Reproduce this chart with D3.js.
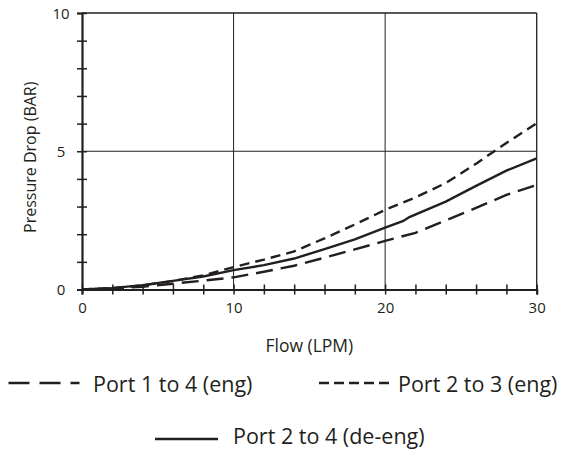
<!DOCTYPE html>
<html>
<head>
<meta charset="utf-8">
<script src="https://cdn.jsdelivr.net/npm/d3@7"></script>
<style>
  html, body { margin: 0; padding: 0; background: #fff; }
  svg { display: block; }
  text { font-family: "Open Sans", "DejaVu Sans", sans-serif; fill: #231f20; }
</style>
</head>
<body>
<svg id="chart" width="562" height="452"></svg>
<script>
// ---- data ----
const xDomain = [0, 30];
const yDomain = [0, 10];
const xMajorTicks = [0, 10, 20, 30];
const xMinorTicks = [0, 2, 4, 6, 8, 10, 12, 14, 16, 18, 20, 22, 24, 26, 28, 30];
const yMajorTicks = [0, 5, 10];
const yMinorTicks = [0, 1, 2, 3, 4, 5, 6, 7, 8, 9, 10];
const xGrid = [10, 20];
const yGrid = [5];

const seriesNames = ["Port 1 to 4 (eng)", "Port 2 to 3 (eng)", "Port 2 to 4 (de-eng)"];

const flow14 = [0, 2, 4, 6, 8, 10, 12, 14, 16, 18, 20, 22, 24, 26, 28, 30];
const drop14 = [0, 0.03, 0.10, 0.21, 0.32, 0.44, 0.64, 0.86, 1.15, 1.45, 1.76, 2.05, 2.50, 2.95, 3.42, 3.78];

const flow23 = [0, 2, 4, 6, 8, 10, 12, 14, 16, 18, 20, 22, 24, 26, 28, 30];
const drop23 = [0, 0.05, 0.15, 0.31, 0.51, 0.81, 1.08, 1.38, 1.85, 2.35, 2.88, 3.33, 3.85, 4.55, 5.30, 6.01];

const flow24 = [0, 2, 4, 6, 8, 10, 12, 14, 16, 18, 20, 21.2, 21.6, 24, 26, 28, 30];
const drop24 = [0, 0.05, 0.16, 0.31, 0.47, 0.70, 0.88, 1.12, 1.46, 1.81, 2.24, 2.48, 2.62, 3.18, 3.75, 4.30, 4.74];

// ---- drawing ----
const svg = d3.select("#chart");
const ink = "#231f20";
const L = 82, R = 536.7, T = 13, B = 289.5;

const x = d3.scaleLinear().domain(xDomain).range([L, R]);
const y = d3.scaleLinear().domain(yDomain).range([B, T]);

// grid
svg.append("g").selectAll("line").data(xGrid).join("line")
  .attr("x1", d => x(d)).attr("x2", d => x(d))
  .attr("y1", T).attr("y2", B)
  .attr("stroke", ink).attr("stroke-width", 1);
svg.append("g").selectAll("line").data(yGrid).join("line")
  .attr("x1", L).attr("x2", R)
  .attr("y1", d => y(d)).attr("y2", d => y(d))
  .attr("stroke", ink).attr("stroke-width", 1);

// frame top & right
svg.append("line").attr("x1", L).attr("x2", R).attr("y1", T).attr("y2", T)
  .attr("stroke", ink).attr("stroke-width", 1.3);
svg.append("line").attr("x1", R).attr("x2", R).attr("y1", T).attr("y2", B)
  .attr("stroke", ink).attr("stroke-width", 1.3);

// x axis
const xAxis = d3.axisBottom(x).tickValues(xMinorTicks).tickSize(5)
  .tickFormat(d => xMajorTicks.includes(d) ? d3.format("d")(d) : "");
const gx = svg.append("g").attr("transform", `translate(0,${B})`).call(xAxis);
gx.select(".domain").attr("stroke", ink).attr("stroke-width", 2.2);
gx.selectAll(".tick line").attr("y1", -5).attr("y2", 5).attr("stroke", ink).attr("stroke-width", 1.5);
gx.selectAll(".tick text").attr("y", 0).attr("dy", "1.55em")
  .style("font-size", "15px").style("font-family", "\"Open Sans\", sans-serif").attr("fill", ink);

// y axis
const yAxis = d3.axisLeft(y).tickValues(yMinorTicks).tickSize(5)
  .tickFormat(d => yMajorTicks.includes(d) ? d3.format("d")(d) : "");
const gy = svg.append("g").attr("transform", `translate(${L},0)`).call(yAxis);
gy.select(".domain").attr("stroke", ink).attr("stroke-width", 2.2);
gy.selectAll(".tick line").attr("x1", -5).attr("x2", 5).attr("stroke", ink).attr("stroke-width", 1.5);
gy.selectAll(".tick text").attr("x", -21).attr("text-anchor", "middle").attr("dy", "0.36em")
  .style("font-size", "15px").style("font-family", "\"Open Sans\", sans-serif").attr("fill", ink);

// axis titles
svg.append("text").attr("x", (L + R) / 2).attr("y", 346).attr("dy", "0.36em")
  .attr("text-anchor", "middle").style("font-size", "17.5px").text("Flow (LPM)");
svg.append("text").attr("transform", `translate(30,${(T + B) / 2 + 6}) rotate(-90)`)
  .attr("dy", "0.36em").attr("text-anchor", "middle").style("font-size", "16px")
  .text("Pressure Drop (BAR)");

// series
const line = d3.line().x(d => x(d[0])).y(d => y(d[1]));
const series = [
  { name: seriesNames[0], pts: d3.zip(flow14, drop14), dash: "17,8" },
  { name: seriesNames[1], pts: d3.zip(flow23, drop23), dash: "10,6" },
  { name: seriesNames[2], pts: d3.zip(flow24, drop24), dash: null }
];
const clipG = svg.append("g");
series.forEach(s => {
  clipG.append("path").datum(s.pts).attr("d", line)
    .attr("fill", "none").attr("stroke", ink).attr("stroke-width", 2.4)
    .attr("stroke-dasharray", s.dash);
});

// legend
const legend = [
  { name: seriesNames[0], x1: 8.5, x2: 79.5, tx: 93, ly: 383, ty: 384, dash: "21,10" },
  { name: seriesNames[1], x1: 319, x2: 389, tx: 398, ly: 383, ty: 384, dash: "10,5" },
  { name: seriesNames[2], x1: 155, x2: 218, tx: 233, ly: 439, ty: 436, dash: null }
];
legend.forEach(l => {
  svg.append("line").attr("x1", l.x1).attr("x2", l.x2).attr("y1", l.ly).attr("y2", l.ly)
    .attr("stroke", ink).attr("stroke-width", 2.4).attr("stroke-dasharray", l.dash);
  svg.append("text").attr("x", l.tx).attr("y", l.ty).attr("dy", "0.36em")
    .style("font-size", "21.5px").text(l.name);
});
</script>
</body>
</html>
